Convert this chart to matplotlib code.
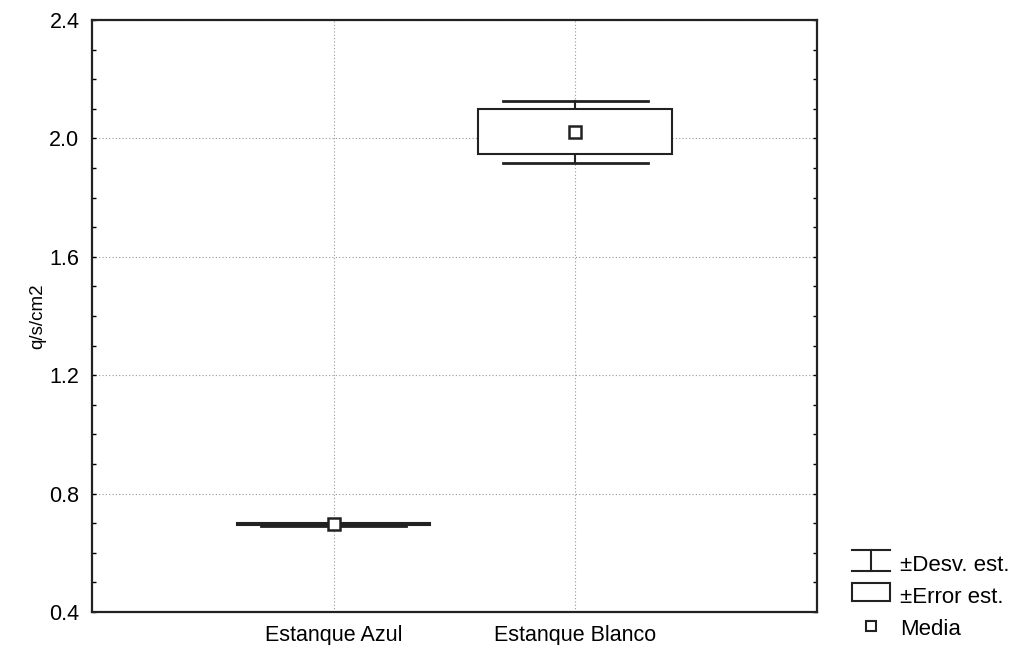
import matplotlib
import numpy as np

matplotlib.use("Agg")
import matplotlib.pyplot as plt  # noqa: E402
from matplotlib.legend_handler import HandlerBase  # noqa: E402
from matplotlib.lines import Line2D  # noqa: E402
from matplotlib.patches import Rectangle  # noqa: E402
from matplotlib.ticker import MultipleLocator  # noqa: E402

plt.rcParams["font.family"] = ["Liberation Sans", "DejaVu Sans"]

# values
groups = ["Estanque Azul", "Estanque Blanco"]
means = [0.697, 2.022]
std_err = [0.003, 0.076]
std_dev = [0.005, 0.105]
y_ticks = [0.4, 0.8, 1.2, 1.6, 2.0, 2.4]
legend_labels = ["±Desv. est.", "±Error est.", "Media"]

BOX_W, CAP_W = 0.8, 0.6
LC = "#222222"


class WhiskerHandler(HandlerBase):
    def create_artists(self, legend, orig, xd, yd, w, h, fs, trans):
        cx = xd + w / 2
        top, bot = yd + h * 1.05, yd - h * 0.1
        arts = [Line2D([xd, xd + w], [top, top]),
                Line2D([xd, xd + w], [bot, bot]),
                Line2D([cx, cx], [bot, top])]
        for a in arts:
            a.set_color(LC)
            a.set_linewidth(1.5)
            a.set_transform(trans)
        return arts


class BoxHandler(HandlerBase):
    def create_artists(self, legend, orig, xd, yd, w, h, fs, trans):
        r = Rectangle((xd, yd), w, h, facecolor="white",
                      edgecolor=LC, linewidth=1.5, transform=trans)
        return [r]


fig = plt.figure(figsize=(10.15, 6.45), dpi=100)
ax = fig.add_axes([0.0906, 0.051, 0.714, 0.918])

x = np.arange(1, len(groups) + 1)
for xi, m, se, sd in zip(x, means, std_err, std_dev):
    # whiskers (std dev)
    ax.plot([xi, xi], [m + se, m + sd], color=LC, lw=1.5, zorder=3)
    ax.plot([xi, xi], [m - se, m - sd], color=LC, lw=1.5, zorder=3)
    ax.plot([xi - CAP_W / 2, xi + CAP_W / 2], [m + sd] * 2, color=LC, lw=2.0, zorder=3)
    ax.plot([xi - CAP_W / 2, xi + CAP_W / 2], [m - sd] * 2, color=LC, lw=2.0, zorder=3)
    # box (std err)
    ax.add_patch(Rectangle((xi - BOX_W / 2, m - se), BOX_W, 2 * se,
                           facecolor="white", edgecolor=LC, lw=1.5, zorder=4))
ax.plot(x, means, ls="none", marker="s", ms=8, mfc="white", mec=LC,
        mew=1.8, zorder=5)

ax.set_xlim(0, 3)
ax.set_ylim(0.4, 2.4)
ax.set_xticks(x)
ax.set_xticklabels(groups, fontsize=15.5)
ax.set_yticks(y_ticks)
ax.set_yticklabels([f"{t:.1f}" for t in y_ticks], fontsize=15.5)
ax.yaxis.set_minor_locator(MultipleLocator(0.1))
ax.tick_params(axis="y", which="both", direction="in", left=True, right=True,
               length=3, width=1, pad=9)
ax.tick_params(axis="x", direction="in", length=0, pad=9)
ax.set_ylabel("q/s/cm2", fontsize=13.5, labelpad=2)
ax.grid(True, which="major", color="#999999", ls=(0, (1, 2)), lw=0.8)
ax.set_axisbelow(True)
for s in ax.spines.values():
    s.set_linewidth(1.6)
    s.set_color(LC)

h_sd = Line2D([], [])
h_se = Rectangle((0, 0), 1, 1)
h_mean = Line2D([], [], ls="none", marker="s", ms=7, mfc="white", mec=LC, mew=1.5)
fig.legend([h_sd, h_se, h_mean], legend_labels,
           handler_map={h_sd: WhiskerHandler(), h_se: BoxHandler()},
           loc="center left", bbox_to_anchor=(0.839, 0.0744), frameon=False,
           borderpad=0, borderaxespad=0,
           fontsize=16, handlelength=1.75, handleheight=0.9,
           handletextpad=0.45, labelspacing=0.45)

fig.savefig("out.png", dpi=100)
